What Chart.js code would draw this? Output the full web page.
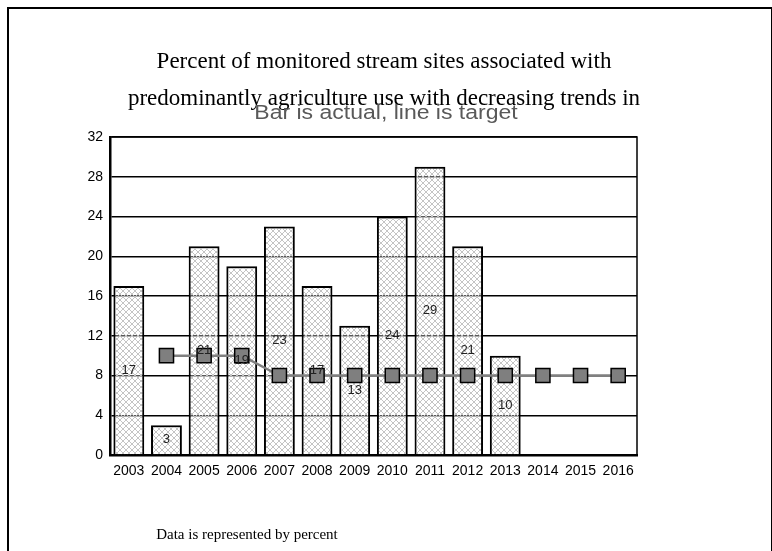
<!DOCTYPE html>
<html>
<head>
<meta charset="utf-8">
<script src="https://cdn.jsdelivr.net/npm/chart.js@4/dist/chart.umd.min.js"></script>
<style>
    body { margin: 0; background: #fff; width: 772px; height: 551px; overflow: hidden; position: relative; }
    #frame { position: absolute; left: 7px; top: 7px; width: 762px; height: 600px; border: 2px solid #000; }
    #wrap { position: absolute; left: 0; top: 0; width: 772px; height: 551px; }
    .txt { position: absolute; left: 0; width: 768px; text-align: center; white-space: nowrap; }
    .title { font-family: "Liberation Serif", "Times New Roman", serif; font-size: 23px; color: #000; }
    #sub { font-family: "Liberation Sans", Arial, sans-serif; font-size: 20px; color: #595959; transform: scaleX(1.15); }
    #foot { font-family: "Liberation Serif", "Times New Roman", serif; font-size: 15px; color: #000; width: 494px; }
</style>
</head>
<body>
<div id="frame"></div>
<div id="wrap"><canvas id="chart" width="772" height="551"></canvas></div>
<div class="txt title" style="top: 48px;">Percent of monitored stream sites associated with</div>
<div class="txt title" style="top: 85px;">predominantly agriculture use with decreasing trends in</div>
<div class="txt" id="sub" style="top: 101px; width: 772px;">Bar is actual, line is target</div>
<div class="txt" id="foot" style="top: 526px;">Data is represented by percent</div>
<script>
const years = ["2003", "2004", "2005", "2006", "2007", "2008", "2009", "2010", "2011", "2012", "2013", "2014", "2015", "2016"];
const actual = [17, 3, 21, 19, 23, 17, 13, 24, 29, 21, 10, null, null, null];
const target = [null, 10, 10, 10, 8, 8, 8, 8, 8, 8, 8, 8, 8, 8];
const yTicks = { min: 0, max: 32, step: 4 };

// crosshatch fill, gaps mostly see-through so gridlines show as dashes
function hatch() {
    const c = document.createElement("canvas");
    c.width = 6; c.height = 6;
    const g = c.getContext("2d");
    g.fillStyle = "rgba(255,255,255,0.35)";
    g.fillRect(0, 0, 6, 6);
    g.strokeStyle = "#c4c4c4";
    g.lineWidth = 1;
    g.beginPath();
    g.moveTo(0, 0); g.lineTo(6, 6);
    g.moveTo(6, 0); g.lineTo(0, 6);
    g.stroke();
    return g.createPattern(c, "repeat");
}

const plotFrame = {
    id: "plotFrame",
    beforeDatasetsDraw(chart) {
        const { ctx, chartArea: a } = chart;
        ctx.save();
        ctx.strokeStyle = "#000";
        ctx.lineWidth = 1.5;
        ctx.strokeRect(a.left, a.top, a.right - a.left, a.bottom - a.top);
        ctx.restore();
    }
};

const barValues = {
    id: "barValues",
    afterDatasetsDraw(chart) {
        const ctx = chart.ctx;
        const meta = chart.getDatasetMeta(0);
        ctx.save();
        ctx.font = "13px 'Liberation Sans', Arial, sans-serif";
        ctx.fillStyle = "#222";
        ctx.textAlign = "center";
        ctx.textBaseline = "middle";
        meta.data.forEach((bar, i) => {
            if (actual[i] == null) return;
            ctx.fillText(String(actual[i]), bar.x, (bar.y + bar.base) / 2);
        });
        ctx.restore();
    }
};

const ctx = document.getElementById("chart").getContext("2d");
new Chart(ctx, {
    data: {
        labels: years,
        datasets: [
            {
                type: "bar",
                label: "Actual",
                data: actual,
                backgroundColor: hatch(),
                borderColor: "#000",
                borderWidth: 2,
                categoryPercentage: 1,
                barPercentage: 0.82,
                order: 2
            },
            {
                type: "line",
                label: "Target",
                data: target,
                borderColor: "#808080",
                borderWidth: 2.5,
                pointStyle: "rect",
                pointRadius: 10,
                pointBackgroundColor: "#7f7f7f",
                pointBorderColor: "#000",
                pointBorderWidth: 1.5,
                tension: 0,
                spanGaps: false,
                order: 1
            }
        ]
    },
    options: {
        responsive: false,
        animation: false,
        layout: { padding: { left: 66, right: 135, top: 137, bottom: 66 } },
        plugins: { legend: { display: false }, tooltip: { enabled: false }, title: { display: false } },
        scales: {
            x: {
                grid: { display: false, drawTicks: false },
                border: { display: true, color: "#000", width: 2.5 },
                ticks: {
                    color: "#000",
                    font: { family: "'Liberation Sans', Arial, sans-serif", size: 14 },
                    padding: 8,
                    maxRotation: 0,
                    autoSkip: false
                },
                afterFit: s => { s.height = 30; }
            },
            y: {
                min: yTicks.min,
                max: yTicks.max,
                grid: { color: "#000", lineWidth: 1.5, drawTicks: false },
                border: { display: true, color: "#000", width: 2.5 },
                ticks: {
                    stepSize: yTicks.step,
                    color: "#000",
                    font: { family: "'Liberation Sans', Arial, sans-serif", size: 14 },
                    padding: 7
                },
                afterFit: s => { s.width = 44; }
            }
        }
    },
    plugins: [plotFrame, barValues]
});
</script>
</body>
</html>
